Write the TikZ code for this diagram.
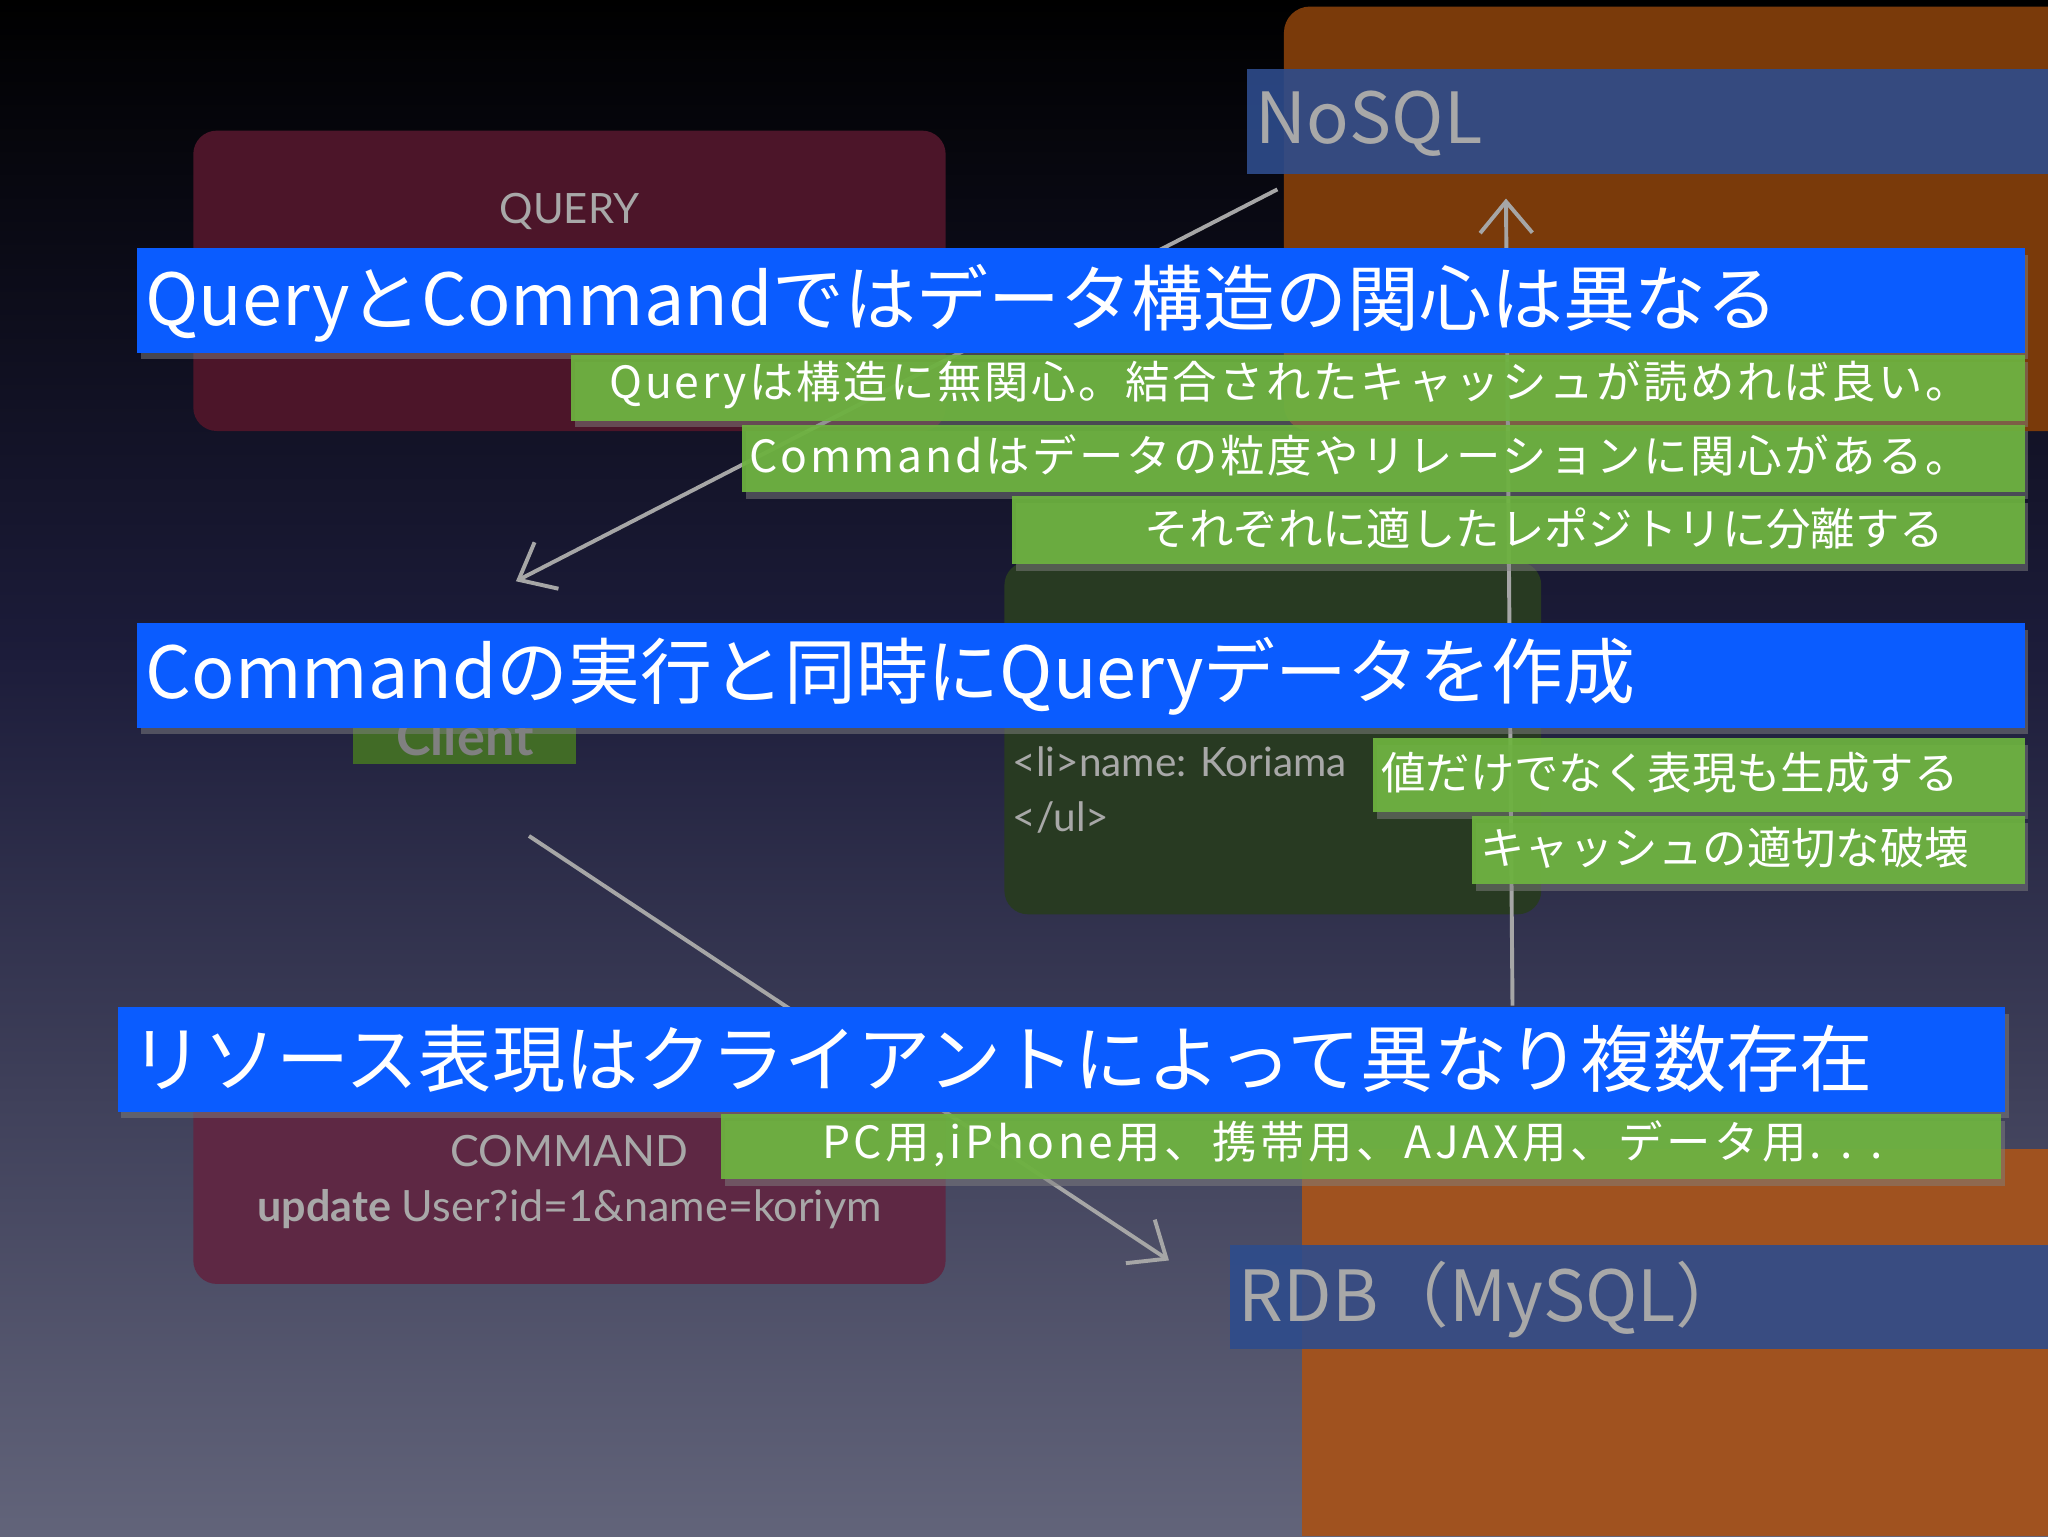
\documentclass[tikz,border=0pt]{standalone}
\usepackage{fontspec}
\setmainfont{Noto Sans CJK JP}
\newfontfamily\gill{Lato}
\usetikzlibrary{arrows.meta,shadows}
\definecolor{bgtop}{HTML}{000000}
\definecolor{bgmid}{HTML}{1C1C3A}
\definecolor{bgbot}{HTML}{62647A}
\definecolor{bblue}{HTML}{0A5CFF}
\definecolor{bgreen}{HTML}{6DB33F}
\definecolor{dbblue}{HTML}{2E4C8C}
\definecolor{orng}{HTML}{7A3A0A}
\definecolor{orng2}{HTML}{A0521F}
\definecolor{maroon}{HTML}{4C1529}
\definecolor{maroon2}{HTML}{5E2844}
\definecolor{dgreen}{HTML}{283A22}
\definecolor{txtgray}{HTML}{A8A8A8}
\tikzset{
  bluebar/.style={fill=bblue, drop shadow={shadow xshift=3pt,shadow yshift=-5pt,opacity=0.5}},
  greenbar/.style={fill=bgreen, fill opacity=0.93, drop shadow={shadow xshift=3pt,shadow yshift=-5pt,opacity=0.5}},
  bigtxt/.style={text=white, font=\fontsize{55}{60}\selectfont, anchor=west},
  smtxt/.style={text=white, font=\fontsize{34}{38}\selectfont},
  graytxt/.style={text=txtgray},
  sketch/.style={draw=gray!70, line width=3pt, -{Straight Barb[length=24pt,width=40pt,line width=3pt]}},
}
\begin{document}
\begin{tikzpicture}[x=1pt,y=-1pt]
\useasboundingbox (0,0) rectangle (1568,1176);
\shade[top color=bgtop, bottom color=bgmid] (0,0) rectangle (1568,500);
\shade[top color=bgmid, bottom color=bgbot] (0,500) rectangle (1568,1176);
% orange panels
\fill[orng, rounded corners=20pt] (983,5) rectangle (1600,330);
\fill[orng2] (997,880) rectangle (1568,1176);
% DB bars
\fill[dbblue, opacity=0.9] (955,53) rectangle (1568,133);
\node[graytxt, anchor=west, font=\fontsize{54}{58}\selectfont] (nosql) at (958,95) {NoSQL};
\fill[dbblue, opacity=0.9] (942,953) rectangle (1568,1033);
\node[graytxt, anchor=west, font=\fontsize{54}{58}\selectfont] (rdb) at (945,995) {RDB（MySQL）};
% boxes
\fill[maroon, rounded corners=18pt] (148,100) rectangle (724,330);
\node[graytxt, font=\gill\fontsize{32}{36}\selectfont] (query) at (436,162) {QUERY};
\fill[maroon2, rounded corners=18pt] (148,800) rectangle (724,983);
\node[graytxt, font=\gill\fontsize{33}{36}\selectfont] (command) at (436,881) {COMMAND};
\node[graytxt, font=\gill\fontsize{33}{36}\selectfont] (upd) at (436,926) {\textbf{update} User?id=1\&name=koriym};
\fill[dgreen, rounded corners=18pt] (769,430) rectangle (1180,700);
\node[graytxt, anchor=west, font=\gill\fontsize{31}{34}\selectfont] (li) at (772,583) {<li>name: Koriama};
\node[graytxt, anchor=west, font=\gill\fontsize{31}{34}\selectfont] (ul) at (772,626) {</ul>};
\fill[bgreen!60!black] (270,520) rectangle (441,585);
\node[text=gray, font=\gill\bfseries\fontsize{40}{44}\selectfont, anchor=north] (client) at (356,545) {Client};
% arrows
\coordinate (a1s) at (978,145); \coordinate (a1e) at (395,445);
\coordinate (a2s) at (405,640); \coordinate (a2e) at (895,965);
\coordinate (a3s) at (1158,770); \coordinate (a3e) at (1153,152);
\draw[sketch] (a1s) -- (a1e);
\draw[sketch] (a2s) -- (a2e);
\draw[sketch] (a3s) -- (a3e);
% bars
\fill[bluebar] (105,190) rectangle (1550,270);
\node[bigtxt] (t1) at (108,232) {QueryとCommandではデータ構造の関心は異なる};
\fill[greenbar] (437,272) rectangle (1550,322);
\node[smtxt, anchor=east, font=\addfontfeatures{LetterSpace=6}\fontsize{34}{38}\selectfont] (g1) at (1512,295) {Queryは構造に無関心。結合されたキャッシュが読めれば良い。};
\fill[greenbar] (568,325) rectangle (1550,377);
\node[smtxt, anchor=east, font=\addfontfeatures{LetterSpace=6}\fontsize{34}{38}\selectfont] (g2) at (1512,349) {Commandはデータの粒度やリレーションに関心がある。};
\fill[greenbar] (775,380) rectangle (1550,432);
\node[smtxt, anchor=east] (g3) at (1492,405) {それぞれに適したレポジトリに分離する};
\fill[bluebar] (105,477) rectangle (1550,557);
\node[bigtxt] (t2) at (108,518) {Commandの実行と同時にQueryデータを作成};
\fill[greenbar] (1051,565) rectangle (1550,622);
\node[smtxt, anchor=west] (g4) at (1054,592) {値だけでなく表現も生成する};
\fill[greenbar] (1127,625) rectangle (1550,677);
\node[smtxt, anchor=west] (g5) at (1130,649) {キャッシュの適切な破壊};
\fill[bluebar] (90,771) rectangle (1535,851);
\node[bigtxt, font=\fontsize{56}{60}\selectfont] (t3) at (96,811) {リソース表現はクライアントによって異なり複数存在};
\fill[greenbar] (552,853) rectangle (1532,903);
\node[smtxt, anchor=west, font=\addfontfeatures{LetterSpace=8}\fontsize{34}{38}\selectfont] (g6) at (626,876) {PC用,iPhone用、携帯用、AJAX用、データ用. . .};
\end{tikzpicture}
\end{document}
